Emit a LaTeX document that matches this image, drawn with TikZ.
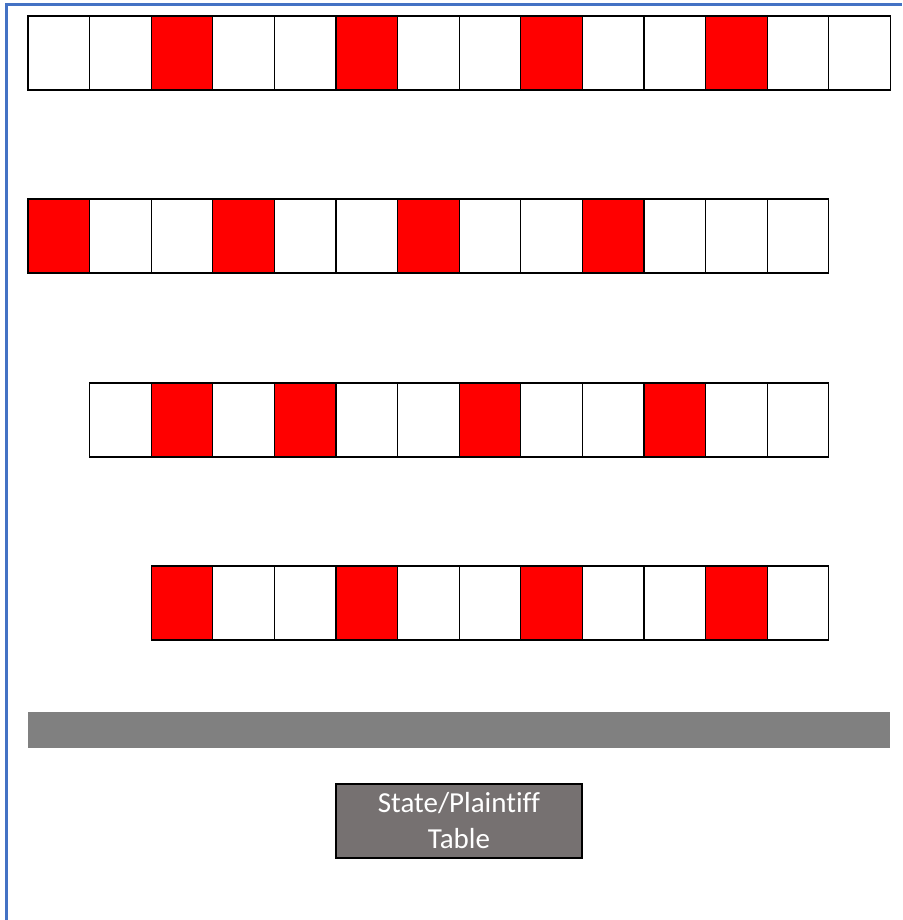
\documentclass[tikz,border=0pt]{standalone}
\usepackage{fontspec}
\setmainfont{Carlito}[Ligatures=CommonOff]
\usetikzlibrary{positioning}

\definecolor{frameblue}{HTML}{4472C4}
\definecolor{aislegray}{HTML}{808080}
\definecolor{tablegray}{HTML}{767171}

\begin{document}
\begin{tikzpicture}[
        x=1pt, y=-1pt,
        cell/.style={draw, line width=1.3pt, minimum width=61.6pt, minimum height=74pt, inner sep=0pt, outer sep=0pt, anchor=north west},
        tint0/.style={fill=white},
        tint1/.style={fill=red},
        aisle/.style={fill=aislegray, minimum width=862pt, minimum height=36pt, inner sep=0pt, anchor=north west},
        tablebox/.style={draw, line width=1.3pt, fill=tablegray, text=white, minimum width=246pt, minimum height=74pt, inner sep=0pt, align=center, font=\fontsize{29}{36}\selectfont}
    ]
        \useasboundingbox (0,0) rectangle (902,920);
        % page frame
        \draw[frameblue, line width=2.5pt] (6.5,920) -- (6.5,4.5) -- (902,4.5);
        % rows of seats
        \foreach \row/\first/\top/\cells in {
                a/0/16/{0,0,1,0,0,1,0,0,1,0,0,1,0,0},
                b/0/199/{1,0,0,1,0,0,1,0,0,1,0,0,0},
                c/1/383/{0,1,0,1,0,0,1,0,0,1,0,0},
                d/2/566/{1,0,0,1,0,0,1,0,0,1,0}} {
            \foreach \s [count=\c from \first] in \cells
                \node[cell, tint\s] (\row\c) at (28+\c*61.6, \top) {};
        }
        \node[aisle] (bar) at (28,712) {};
        \node[tablebox] (bench) at (459,821) {State/Plaintiff\\Table};
    \end{tikzpicture}
\end{document}
